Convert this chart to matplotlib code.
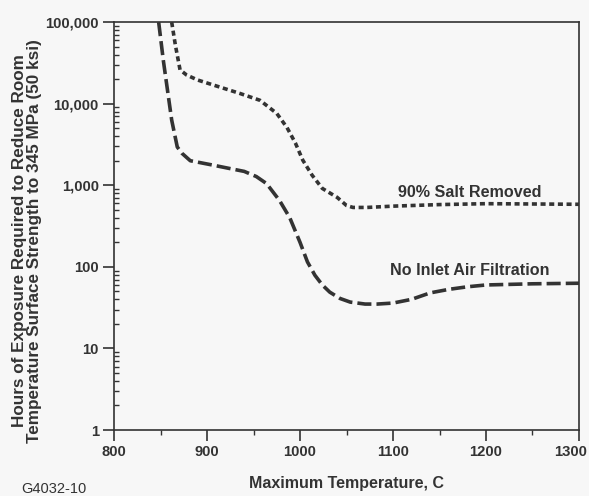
import matplotlib
matplotlib.use("Agg")
import matplotlib.pyplot as plt
from matplotlib.ticker import FixedLocator, LogLocator, NullFormatter
from matplotlib.transforms import ScaledTranslation

# No Inlet Air Filtration (long dashes)
temp_no_filter = [848, 853, 862, 868, 873, 882, 906, 925, 940, 953, 964, 978, 989,
                  1000, 1008, 1016, 1024, 1032, 1043, 1054, 1070, 1083, 1100,
                  1120, 1140, 1160, 1180, 1200, 1250, 1300]
hours_no_filter = [100000, 34000, 6300, 2950, 2470, 2000, 1770, 1600, 1480, 1280,
                   1050, 650, 400, 200, 115, 79, 60, 49, 41, 37, 35, 35, 36,
                   40, 48, 53, 57, 60, 62, 63]

# 90% Salt Removed (short dashes)
temp_salt = [862, 866, 871, 878, 890, 910, 935, 957, 975, 986, 995, 1003, 1013,
             1024, 1040, 1050, 1057, 1072, 1100, 1150, 1200, 1250, 1300]
hours_salt = [100000, 52000, 26000, 22500, 19500, 16500, 13400, 11000, 7600, 5100,
              3300, 2030, 1330, 915, 710, 565, 535, 535, 555, 580, 595, 590, 585]

y_ticks = [1, 10, 100, 1000, 10000, 100000]
y_tick_labels = ["1", "10", "100", "1,000", "10,000", "100,000"]
x_ticks = [800, 900, 1000, 1100, 1200, 1300]

plt.rcParams["font.family"] = ["Liberation Sans", "DejaVu Sans"]
plt.rcParams["font.weight"] = "bold"
plt.rcParams["axes.labelweight"] = "bold"

fig = plt.figure(figsize=(5.89, 4.96), dpi=100, facecolor="#f7f7f7")
ax = fig.add_axes([0.1936, 0.133, 0.7894, 0.8224], facecolor="#f7f7f7")

ink = "#333333"
ax.plot(temp_no_filter, hours_no_filter, color=ink, lw=2.6,
        dashes=(3.9, 1.4))
ax.plot(temp_salt, hours_salt, color=ink, lw=2.6,
        dashes=(1.4, 1.0))

ax.set_yscale("log")
ax.set_xlim(800, 1300)
ax.set_ylim(1, 100000)
ax.yaxis.set_major_locator(FixedLocator(y_ticks))
ax.set_yticklabels(y_tick_labels)
ax.yaxis.set_minor_locator(LogLocator(base=10, subs=range(2, 10)))
ax.yaxis.set_minor_formatter(NullFormatter())
ax.set_xticks(x_ticks)
ax.set_xticks([850, 950, 1050, 1150, 1250], minor=True)

ax.tick_params(axis="both", which="major", direction="out", length=8,
               width=1.2, colors=ink, labelsize=10.6, pad=3)
ax.tick_params(axis="y", which="minor", direction="in", length=3.5, width=1, colors=ink)
ax.tick_params(axis="x", which="minor", direction="out", length=3.5, width=1, colors=ink)
for s in ax.spines.values():
    s.set_color(ink)
    s.set_linewidth(1.2)

# last x label sits a bit left of its tick, as in the original
last = ax.get_xticklabels()[-1]
last.set_transform(last.get_transform() + ScaledTranslation(-0.08, 0, fig.dpi_scale_trans))

ax.text(1182, 820, "90% Salt Removed", ha="center", va="center",
        fontsize=11.6, color=ink)
ax.text(1182, 91, "No Inlet Air Filtration", ha="center", va="center",
        fontsize=11.6, color=ink)

ax.set_xlabel("Maximum Temperature, C", fontsize=11.5, color=ink, labelpad=12)
fig.text(0.046, 0.514, "Hours of Exposure Required to Reduce Room\n"
         "Temperature Surface Strength to 345 MPa (50 ksi)",
         rotation=90, ha="center", va="center", fontsize=12.3, color=ink,
         linespacing=1.0)
fig.text(0.036, 0.006, "G4032-10", fontsize=10.5, fontweight="normal", color=ink)

fig.savefig("out.png", dpi=100, facecolor=fig.get_facecolor())
